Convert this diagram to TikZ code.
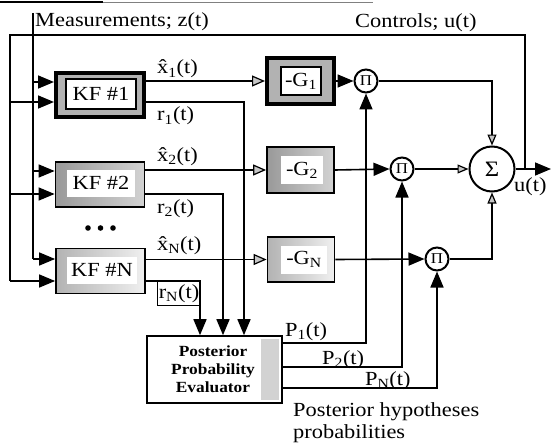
\documentclass[tikz,border=0pt]{standalone}
\usepackage{fontspec}
\setmainfont{Liberation Serif}[FakeStretch=1.12]
\usetikzlibrary{arrows.meta,calc}
\newcommand{\xh}{\ooalign{x\cr\hidewidth\char"02C6\hidewidth\cr}}
\tikzset{
  ln/.style={line width=1.6pt},
  fa/.style={-{Triangle[length=16pt,width=13pt]}},
  ha/.style={-{Triangle[open,fill=gray!45,length=13pt,width=11pt,line width=1.2pt]}},
  hs/.style={-{Triangle[open,fill=gray!45,length=11pt,width=9pt,line width=1.2pt]}},
  lbl/.style={font=\fontsize{20}{22}\selectfont, inner sep=0pt},
  boxA/.style={draw=black, line width=4pt, fill=gray!60, inner sep=0pt},
  boxB/.style={draw=black, line width=1.8pt, left color=gray!80, right color=gray!35, inner sep=0pt},
  boxC/.style={draw=black, line width=1.8pt, left color=gray!60, right color=gray!12, inner sep=0pt},
  txA/.style={fill=white, draw=black, line width=1.5pt, font=\fontsize{20}{22}\selectfont, inner sep=0pt},
  txB/.style={fill=white, font=\fontsize{20}{22}\selectfont, inner sep=0pt},
  mult/.style={circle, draw=black, line width=2pt, fill=white, minimum size=23pt, inner sep=0pt, font=\fontsize{15}{15}\selectfont},
}
\begin{document}
\begin{tikzpicture}[x=1pt,y=-1pt]
\useasboundingbox (0,0) rectangle (552,444);
% scan edge line at top
\draw[line width=1.4pt] (0,2) -- (103,2);
\draw[line width=0.7pt, gray] (103,2) -- (373,2);

% Kalman filter boxes
\node[boxA, minimum width=88pt, minimum height=44pt] (kf1) at (100,95) {};
\node[txA, minimum width=70pt, minimum height=30pt] (kf1t) at (101,94) {KF \#1};
\node[boxB, minimum width=89pt, minimum height=45pt] (kf2) at (100,184.5) {};
\node[txB, minimum width=68pt, minimum height=27pt] (kf2t) at (101,183) {KF \#2};
\node[boxC, minimum width=89pt, minimum height=45pt] (kfn) at (100.5,271) {};
\node[txB, minimum width=70pt, minimum height=27pt] (kfnt) at (102,270) {KF \#N};

% gain boxes
\node[boxA, minimum width=67pt, minimum height=46pt] (g1) at (300.5,81) {};
\node[txA, minimum width=40pt, minimum height=28pt] (g1t) at (301,81) {-G\textsubscript{1}};
\node[boxB, minimum width=67pt, minimum height=46pt] (g2) at (300.5,170) {};
\node[txB, minimum width=42pt, minimum height=28pt] (g2t) at (302,170) {-G\textsubscript{2}};
\node[boxC, minimum width=67pt, minimum height=45pt] (gn) at (301,259.5) {};
\node[txB, minimum width=46pt, minimum height=28pt] (gnt) at (304,259.5) {-G\textsubscript{N}};

% multipliers and summer
\node[mult] (p1) at (366,81) {Π};
\node[mult] (p2) at (402,169) {Π};
\node[mult] (pn) at (437,259) {Π};
\node[circle, draw=black, line width=2pt, fill=white, minimum size=45pt, inner sep=0pt, font=\fontsize{22}{22}\selectfont] (sig) at (492,169) {Σ};

% posterior probability evaluator
\node[draw=black, line width=1.6pt, fill=white, minimum width=135pt, minimum height=67pt, inner sep=0pt] (ppe) at (214.5,369.5) {};
\fill[gray!35] ($(ppe.north east)+(-22,4)$) rectangle ($(ppe.south east)+(-4,-4)$);
\node[align=center, inner sep=0pt, font=\fontsize{15.5}{18}\selectfont\bfseries] (ppet) at (213,369) {Posterior\\Probability\\Evaluator};

% coordinates
\coordinate (mtop) at (33,13);
\coordinate (fbr) at (525,169);
\coordinate (fbtr) at (525,35);
\coordinate (fbtl) at (10,35);
\coordinate (m1) at (33,82);
\coordinate (m2) at (33,171);
\coordinate (mn) at (33,259);
\coordinate (c1) at (10,102);
\coordinate (c2) at (10,194);
\coordinate (cn) at (10,281);
\coordinate (r1) at (244,102);
\coordinate (r2) at (223,194);
\coordinate (rn) at (200,281);
\coordinate (q1) at (366,343);
\coordinate (q2) at (402,367);
\coordinate (qn) at (437,388);
\coordinate (uend) at (551,169);

% measurements bus
\draw[ln] (mtop) -- (mn);
\draw[ln,fa] (m1) -- (m1 -| kf1.west);
\draw[ln,fa] (m2) -- (m2 -| kf2.west);
\draw[ln,fa] (mn) -- (mn -| kfn.west);

% control feedback
\draw[ln,fa] (sig.east) -- (uend);
\draw[ln] (fbr) -- (fbtr) -- (fbtl) -- (cn);
\draw[ln,fa] (c1) -- (c1 -| kf1.west);
\draw[ln,fa] (c2) -- (c2 -| kf2.west);
\draw[ln,fa] (cn) -- (cn -| kfn.west);

% state estimates to gains
\draw[ln,ha] (g1 -| kf1.east) -- (g1.west);
\draw[ln,ha] (g2 -| kf2.east) -- (g2.west);
\draw[ln,ha] (gn -| kfn.east) -- (gn.west);

% residuals to evaluator
\draw[ln,fa] (r1 -| kf1.east) -- (r1) -- (r1 |- ppe.north);
\draw[ln,fa] (r2 -| kf2.east) -- (r2) -- (r2 |- ppe.north);
\draw[ln,fa] (rn -| kfn.east) -- (rn) -- (rn |- ppe.north);

% gains to multipliers
\draw[ln,fa] (g1.east) -- (p1.west);
\draw[ln,fa] (g2.east) -- (p2.west);
\draw[ln,fa] (gn.east) -- (pn.west);

% probabilities to multipliers
\draw[ln,fa] (q1 -| ppe.east) -- (q1) -- (p1.south);
\draw[ln,fa] (q2 -| ppe.east) -- (q2) -- (p2.south);
\draw[ln,fa] (qn -| ppe.east) -- (qn) -- (pn.south);

% multipliers to summer
\draw[ln,hs] (p1.east) -- (p1.east -| sig.north) -- (sig.north);
\draw[ln,hs] (p2.east) -- (sig.west);
\draw[ln,hs] (pn.east) -- (pn.east -| sig.south) -- (sig.south);

% labels
\node[lbl, anchor=base west] (lm) at (35,27) {Measurements; z(t)};
\node[lbl, anchor=base west] (lc) at (355,28) {Controls; u(t)};
\node[lbl, anchor=base west] (lx1) at (157,74) {\xh\textsubscript{1}(t)};
\node[lbl, anchor=base west] (lr1) at (157,121) {r\textsubscript{1}(t)};
\node[lbl, anchor=base west] (lx2) at (157,161) {\xh\textsubscript{2}(t)};
\node[lbl, anchor=base west] (lr2) at (157,213) {r\textsubscript{2}(t)};
\node[lbl, anchor=base west] (lxn) at (157,250) {\xh\textsubscript{N}(t)};
\node[lbl, draw=black, line width=1pt, anchor=north west, minimum width=43pt, minimum height=24pt] (lrn) at (157,281) {r\textsubscript{N}(t)};
\node[lbl, anchor=base west] (lp1) at (285,336) {P\textsubscript{1}(t)};
\node[lbl, anchor=base west] (lp2) at (322,364) {P\textsubscript{2}(t)};
\node[lbl, anchor=base west] (lpn) at (365,385) {P\textsubscript{N}(t)};
\node[lbl, anchor=base west] (lu) at (514,191) {u(t)};
\node[lbl, anchor=base west] (lph) at (293,416) {Posterior hypotheses};
\node[lbl, anchor=base west] (lpp) at (293,438) {probabilities};

% ellipsis dots
\fill (88,228) circle (2.8pt) (100.5,228) circle (2.8pt) (113,228) circle (2.8pt);
\end{tikzpicture}
\end{document}
